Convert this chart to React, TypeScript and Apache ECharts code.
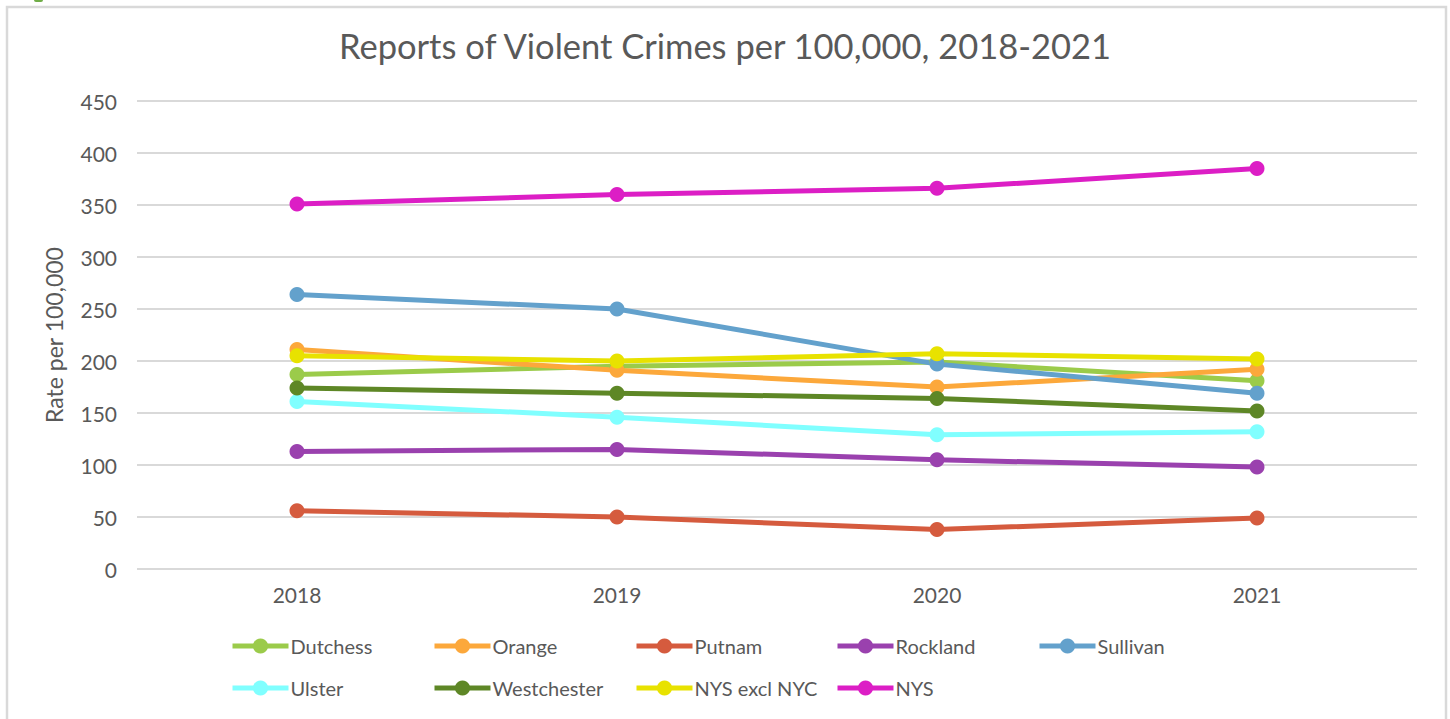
import React, { useEffect, useRef } from "react";
import * as echarts from "echarts";

const years = ["2018", "2019", "2020", "2021"];
const dutchess = [187, 195, 199, 181];
const orange = [211, 191, 175, 192];
const putnam = [56, 50, 38, 49];
const rockland = [113, 115, 105, 98];
const sullivan = [264, 250, 197, 169];
const ulster = [161, 146, 129, 132];
const westchester = [174, 169, 164, 152];
const nysExclNyc = [205, 200, 207, 202];
const nys = [351, 360, 366, 385];

const seriesNames = ["Dutchess", "Orange", "Putnam", "Rockland", "Sullivan", "Ulster", "Westchester", "NYS excl NYC", "NYS"];
const seriesValues = [dutchess, orange, putnam, rockland, sullivan, ulster, westchester, nysExclNyc, nys];
const seriesColors = ["#9BCB4A", "#FCA83B", "#D55B3E", "#9A41AE", "#63A1CC", "#80FFFF", "#5E8726", "#E8E200", "#DC1EC5"];

const TEXT = "#595959";
const FONT = "Lato";

export default function App() {
  const ref = useRef<HTMLDivElement>(null);
  useEffect(() => {
    if (!ref.current) return;
    const chart = echarts.init(ref.current, null, { renderer: "svg" });
    const legendCols = [230, 432, 634, 835, 1037];
    const legends = seriesNames.map((n, i) => ({
      data: [n],
      left: legendCols[i % 5],
      top: i < 5 ? 636 : 678,
      padding: 0,
      itemWidth: 56,
      itemHeight: 19,
      lineStyle: { width: 5 },
      textStyle: { color: TEXT, fontSize: 20, fontFamily: FONT, padding: [0, 0, 0, -3] },
      selectedMode: false,
    }));
    chart.setOption({
      animation: false,
      backgroundColor: "#ffffff",
      textStyle: { fontFamily: FONT },
      title: {
        text: "Reports of Violent Crimes per 100,000, 2018-2021",
        left: "center",
        top: 23,
        textStyle: { color: TEXT, fontSize: 34.5, fontWeight: "normal", fontFamily: FONT },
      },
      graphic: [
        {
          type: "rect",
          shape: { x: 7, y: 7, width: 1439, height: 740 },
          style: { fill: "none", stroke: "#D9D9D9", lineWidth: 2.5 },
          silent: true,
        },
        {
          type: "rect",
          shape: { x: 34, y: -2, width: 9, height: 4, r: 2 },
          style: { fill: "#70AD47" },
          silent: true,
        },
      ],
      legend: legends,
      grid: { left: 137, right: 33, top: 101, bottom: 150 },
      xAxis: {
        type: "category",
        data: years,
        boundaryGap: true,
        axisLine: { show: false },
        axisTick: { show: false },
        axisLabel: { color: TEXT, fontSize: 21, fontFamily: FONT, margin: 15 },
      },
      yAxis: {
        type: "value",
        min: 0,
        max: 450,
        interval: 50,
        name: "Rate per 100,000",
        nameLocation: "middle",
        nameGap: 72,
        nameTextStyle: { color: TEXT, fontSize: 23, fontFamily: FONT },
        axisLine: { show: false },
        axisTick: { show: false },
        axisLabel: { color: TEXT, fontSize: 21, fontFamily: FONT, margin: 20 },
        splitLine: { lineStyle: { color: "#D9D9D9", width: 2 } },
      },
      series: seriesNames.map((n, i) => ({
        name: n,
        type: "line",
        data: seriesValues[i],
        symbol: "circle",
        symbolSize: 15,
        lineStyle: { width: 5, color: seriesColors[i] },
        itemStyle: { color: seriesColors[i] },
        emphasis: { disabled: true },
      })),
    });
    return () => chart.dispose();
  }, []);
  return (
    <div
      ref={ref}
      style={{ position: "fixed", left: 0, top: 0, width: 1450, height: 719 }}
    />
  );
}
